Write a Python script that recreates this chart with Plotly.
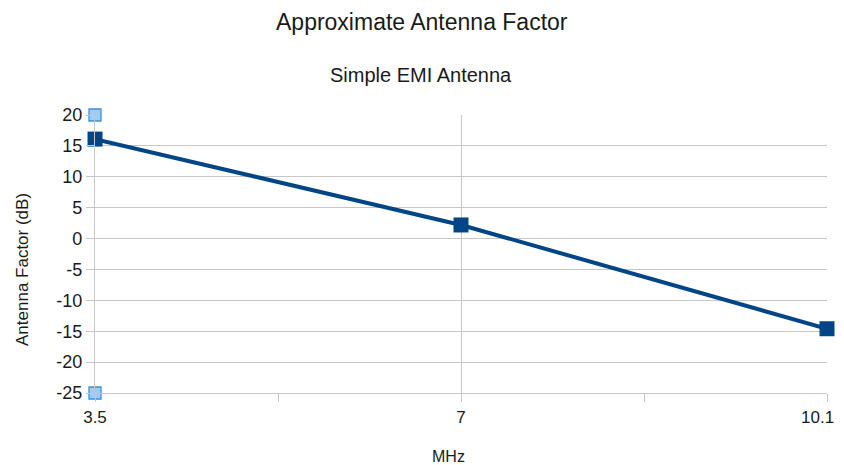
import plotly.graph_objects as go

categories = ["3.5", "7", "10.1"]
antenna_factor = [16.1, 2.2, -14.6]
range_x = ["3.5", "3.5"]
range_y = [20, -25]
y_ticks = [20, 15, 10, 5, 0, -5, -10, -15, -20, -25]

idx = {c: i for i, c in enumerate(categories)}
# pad the last label with non-breaking spaces so it stays inside the page edge
tick_labels = categories[:-1] + [categories[-1] + "\u00a0" * 4]

W, H = 844, 457
L, R, T, B = 87, 25, 107, 72
PW, PH = W - L - R, H - T - B


def px(x):
    return (x - L) / PW


def py(y):
    return 1 - (y - T) / PH


fig = go.Figure()
fig.add_trace(go.Scatter(
    x=[idx[c] for c in categories], y=antenna_factor, mode="lines+markers",
    line=dict(color="#004586", width=4),
    marker=dict(symbol="square", size=15, color="#004586"),
    cliponaxis=False, showlegend=False))
fig.add_trace(go.Scatter(
    x=[idx[c] for c in range_x], y=range_y, mode="markers",
    marker=dict(symbol="square", size=12, color="#9fcdf2",
                line=dict(color="#3f8fd6", width=1.3)),
    cliponaxis=False, showlegend=False))

txt = "#1a1a1a"
fig.update_layout(
    width=W, height=H,
    margin=dict(l=L, r=R, t=T, b=B, autoexpand=False),
    paper_bgcolor="white", plot_bgcolor="white",
    font=dict(family="Liberation Sans, Arial, sans-serif", color=txt),
    annotations=[
        dict(text="Approximate Antenna Factor", x=px(414), y=py(14), xref="paper", yref="paper",
             xanchor="center", yanchor="middle", showarrow=False, font=dict(size=23, color=txt)),
        dict(text="Simple EMI Antenna", x=px(413), y=py(67), xref="paper", yref="paper",
             xanchor="center", yanchor="middle", showarrow=False, font=dict(size=20, color=txt)),
        dict(text="MHz", x=px(440), y=py(448), xref="paper", yref="paper",
             xanchor="center", yanchor="middle", showarrow=False, font=dict(size=16, color=txt)),
        dict(text="Antenna Factor (dB)", x=px(14), y=py(262), xref="paper", yref="paper",
             xanchor="center", yanchor="middle", textangle=-90, showarrow=False,
             font=dict(size=17, color=txt)),
    ],
)

grid = "#c6c6c6"
fig.update_xaxes(
    range=[0, 2], tickmode="array", tickvals=list(range(len(categories))), ticktext=tick_labels,
    showgrid=True, gridcolor=grid, gridwidth=1.3,
    ticks="outside", ticklen=8, tickcolor=grid, tickwidth=1.3,
    minor=dict(tickmode="array", tickvals=[0.5, 1.5], ticks="outside", ticklen=8,
               tickcolor=grid, tickwidth=1.3, showgrid=False),
    showline=True, linecolor=grid, linewidth=1.3, zeroline=False, automargin=False,
    ticklabeloverflow="allow",
    tickfont=dict(size=17, color=txt),
)
fig.update_yaxes(
    range=[-25, 20], tickmode="array", tickvals=y_ticks, ticktext=[str(v) for v in y_ticks],
    showgrid=True, gridcolor=grid, gridwidth=1.3,
    ticks="outside", ticklen=8, tickcolor=grid, tickwidth=1.3,
    showline=True, linecolor=grid, linewidth=1.3, zeroline=False, automargin=False,
    tickfont=dict(size=18, color=txt),
)

fig.write_html("out.html")
